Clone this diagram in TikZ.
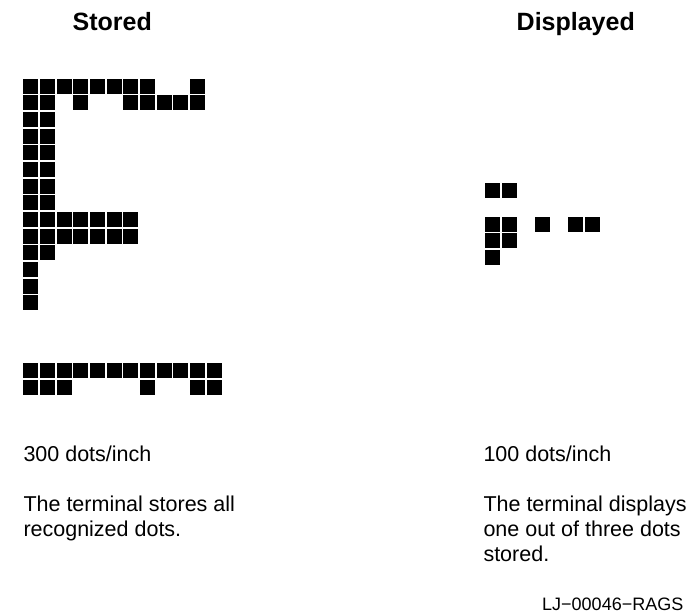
\documentclass[tikz,border=0pt]{standalone}
\usepackage{fontspec}
\setmainfont{Liberation Sans}
\begin{document}
\begin{tikzpicture}[x=1pt,y=-1pt,
  title/.style={anchor=base west,inner sep=0pt,font=\fontsize{25}{30}\selectfont\bfseries},
  body/.style={anchor=base west,inner sep=0pt,font=\fontsize{21.5}{25}\selectfont},
  code/.style={anchor=base west,inner sep=0pt,font=\fontsize{18}{22}\selectfont}]
\useasboundingbox (0,0) rectangle (693,614);
\newcommand\dotgrid[3]{\foreach \c/\r in {#3} {\fill[black] ({#1+16.667*\c},{#2+16.667*\r}) rectangle ++(15,15);}}
% titles
\node[title] (stored) at (72.5,30.7) {Stored};
\node[title] (displayed) at (516.5,30.7) {Displayed};
% stored dots
\dotgrid{23.3}{78.7}{0/0,1/0,2/0,3/0,4/0,5/0,6/0,7/0,10/0,
  0/1,1/1,3/1,6/1,7/1,8/1,9/1,10/1,
  0/2,1/2,0/3,1/3,0/4,1/4,0/5,1/5,0/6,1/6,0/7,1/7,
  0/8,1/8,2/8,3/8,4/8,5/8,6/8,
  0/9,1/9,2/9,3/9,4/9,5/9,6/9,
  0/10,1/10,0/11,0/12,0/13}
\dotgrid{23.3}{363.3}{0/0,1/0,2/0,3/0,4/0,5/0,6/0,7/0,8/0,9/0,10/0,11/0,
  0/1,1/1,2/1,7/1,10/1,11/1}
% displayed dots
\dotgrid{485}{183.3}{0/0,1/0,0/2,1/2,3/2,5/2,6/2,0/3,1/3,0/4}
% texts
\node[body] (sres) at (23.3,461.7) {300 dots/inch};
\node[body] (s1) at (23.3,511.7) {The terminal stores all};
\node[body] (s2) at (23.3,536.7) {recognized dots.};
\node[body] (dres) at (483.3,461.7) {100 dots/inch};
\node[body] (d1) at (483.3,511.7) {The terminal displays};
\node[body] (d2) at (483.3,536.7) {one out of three dots};
\node[body] (d3) at (483.3,561.7) {stored.};
\node[code] (lj) at (542,610.7) {LJ−00046−RAGS};
\end{tikzpicture}
\end{document}
